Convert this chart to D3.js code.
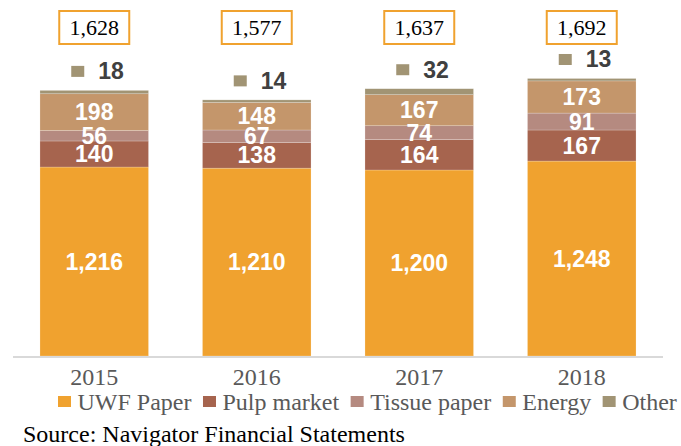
<!DOCTYPE html>
<html>
<head>
<meta charset="utf-8">
<script src="https://cdn.jsdelivr.net/npm/d3@7"></script>
<style>
  html, body { margin: 0; padding: 0; background: #fff; }
  svg { display: block; }
</style>
</head>
<body>
<svg id="chart" width="681" height="446"></svg>
<script>
const years = ["2015", "2016", "2017", "2018"];
const seriesNames = ["UWF Paper", "Pulp market", "Tissue paper", "Energy", "Other"];
const uwfPaper = [1216, 1210, 1200, 1248];
const pulpMarket = [140, 138, 164, 167];
const tissuePaper = [56, 67, 74, 91];
const energy = [198, 148, 167, 173];
const other = [18, 14, 32, 13];
const totals = [1628, 1577, 1637, 1692];
const colors = ["#F0A22F", "#A6644E", "#B58A80", "#C4966B", "#A19474"];

const seriesValues = [uwfPaper, pulpMarket, tissuePaper, energy, other];
const rows = years.map((y, i) => {
  const r = { year: y };
  seriesNames.forEach((s, j) => r[s] = seriesValues[j][i]);
  return r;
});

const svg = d3.select("#chart");
const baseY = 356;

const x = d3.scaleBand().domain(years).range([13, 663]).paddingInner(0.332).paddingOuter(0.166);
const y = d3.scaleLinear().domain([200, 1800]).range([baseY, 58.4]);

const stack = d3.stack().keys(seriesNames);
const stacked = stack(rows);

const sans = "'Liberation Sans', Arial, sans-serif";
const serif = "'Liberation Serif', 'Times New Roman', serif";

// bars
const g = svg.append("g");
stacked.forEach((layer, li) => {
  g.selectAll(null).data(layer).enter().append("rect")
    .attr("x", d => x(d.data.year))
    .attr("width", x.bandwidth())
    .attr("y", d => y(d[1]))
    .attr("height", d => y(Math.max(d[0], 200)) - y(d[1]))
    .attr("fill", colors[li])
    .attr("stroke", "rgba(255,255,255,0.35)")
    .attr("stroke-width", 0.6);
});

// segment labels (first four series)
stacked.slice(0, 4).forEach((layer, li) => {
  g.selectAll(null).data(layer).enter().append("text")
    .attr("x", d => x(d.data.year) + x.bandwidth() / 2)
    .attr("y", d => (y(Math.max(d[0], 200)) + y(d[1])) / 2)
    .attr("text-anchor", "middle")
    .attr("dominant-baseline", "central")
    .attr("font-family", sans)
    .attr("font-weight", "bold")
    .attr("font-size", 23)
    .attr("fill", "#ffffff")
    .text(d => d3.format(",")(d[1] - d[0]));
});

// "Other" labels above bars with marker
const otherLayer = stacked[4];
otherLayer.forEach((d, i) => {
  const cx = x(d.data.year) + x.bandwidth() / 2;
  const cy = y(d[1]) - 19;
  svg.append("rect")
    .attr("x", cx - 23).attr("y", cy - 5.5)
    .attr("width", 13).attr("height", 11)
    .attr("fill", colors[4]);
  svg.append("text")
    .attr("x", cx + 4).attr("y", cy)
    .attr("dominant-baseline", "central")
    .attr("font-family", sans).attr("font-weight", "bold")
    .attr("font-size", 23).attr("fill", "#404040")
    .text(other[i]);
});

// total boxes
years.forEach((yr, i) => {
  const cx = x(yr) + x.bandwidth() / 2;
  svg.append("rect")
    .attr("x", cx - 35).attr("y", 11)
    .attr("width", 70).attr("height", 33)
    .attr("fill", "#fff")
    .attr("stroke", "#F0A22F").attr("stroke-width", 2);
  svg.append("text")
    .attr("x", cx).attr("y", 27.5)
    .attr("text-anchor", "middle")
    .attr("dominant-baseline", "central")
    .attr("font-family", serif).attr("font-size", 22)
    .attr("fill", "#000")
    .text(d3.format(",")(totals[i]));
});

// x axis
const xAxis = svg.append("g").attr("transform", `translate(0,${baseY})`)
  .call(d3.axisBottom(x).tickSize(0).tickPadding(0));
xAxis.select(".domain").attr("stroke", "#D9D9D9").attr("stroke-width", 2)
  .attr("d", "M13,1H663");
xAxis.selectAll(".tick text")
  .attr("y", 29).attr("dy", 0)
  .attr("font-family", serif).attr("font-size", 24)
  .attr("fill", "#595959");

// legend
const legend = svg.append("g");
let lx = 58;
seriesNames.forEach((s, i) => {
  legend.append("rect")
    .attr("x", lx).attr("y", 396)
    .attr("width", 13).attr("height", 11)
    .attr("fill", colors[i]);
  const t = legend.append("text")
    .attr("x", lx + 19.5).attr("y", 410)
    .attr("font-family", serif).attr("font-size", 24)
    .attr("fill", "#595959")
    .text(s);
  lx += 19.5 + t.node().getComputedTextLength() + 11.5;
});

// source
svg.append("text")
  .attr("x", 23).attr("y", 441.5)
  .attr("font-family", serif).attr("font-size", 24)
  .attr("fill", "#000")
  .text("Source: Navigator Financial Statements");
</script>
</body>
</html>
